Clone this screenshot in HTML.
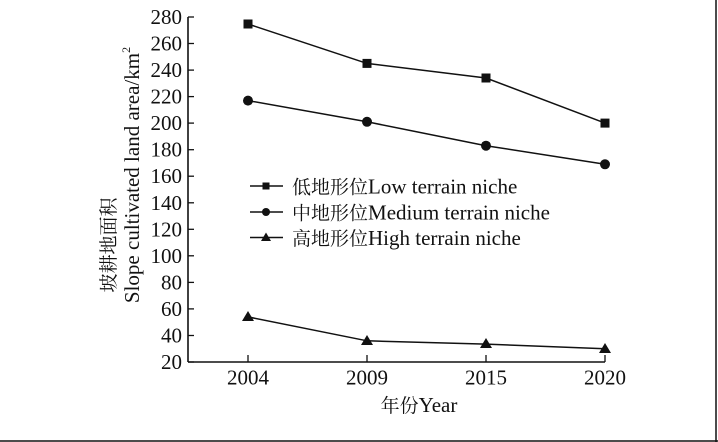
<!DOCTYPE html>
<html><head><meta charset="utf-8"><style>
html,body{margin:0;padding:0;background:#fff;}
svg{display:block;}
text{font-family:"Liberation Serif","Times New Roman","Noto Serif CJK SC",serif;fill:#111;}
.cn{font-family:"Noto Serif CJK SC","Liberation Serif",serif;}
</style></head><body>
<svg width="718" height="442" viewBox="0 0 718 442" xmlns="http://www.w3.org/2000/svg">
<rect width="718" height="442" fill="#fff"/>
<!-- frame -->
<line x1="0" y1="441" x2="718" y2="441" stroke="#111" stroke-width="1.5"/>
<line x1="716" y1="0" x2="716" y2="442" stroke="#111" stroke-width="1.5"/>
<!-- axes -->
<line x1="188" y1="17" x2="188" y2="362" stroke="#111" stroke-width="1.6"/>
<line x1="188" y1="362" x2="605" y2="362" stroke="#111" stroke-width="1.6"/>
<g stroke="#111" stroke-width="1.3">
<line x1="188" y1="362" x2="194" y2="362"/>
<line x1="188" y1="335.5" x2="194" y2="335.5"/>
<line x1="188" y1="308.9" x2="194" y2="308.9"/>
<line x1="188" y1="282.4" x2="194" y2="282.4"/>
<line x1="188" y1="255.8" x2="194" y2="255.8"/>
<line x1="188" y1="229.3" x2="194" y2="229.3"/>
<line x1="188" y1="202.8" x2="194" y2="202.8"/>
<line x1="188" y1="176.2" x2="194" y2="176.2"/>
<line x1="188" y1="149.7" x2="194" y2="149.7"/>
<line x1="188" y1="123.1" x2="194" y2="123.1"/>
<line x1="188" y1="96.6" x2="194" y2="96.6"/>
<line x1="188" y1="70.1" x2="194" y2="70.1"/>
<line x1="188" y1="43.5" x2="194" y2="43.5"/>
<line x1="188" y1="17" x2="194" y2="17"/>
<line x1="248" y1="362" x2="248" y2="355"/>
<line x1="367" y1="362" x2="367" y2="355"/>
<line x1="486" y1="362" x2="486" y2="355"/>
<line x1="605" y1="362" x2="605" y2="355"/>
</g>
<!-- y tick labels -->
<g font-size="21" text-anchor="end">
<text x="182" y="369">20</text>
<text x="182" y="342.5">40</text>
<text x="182" y="315.9">60</text>
<text x="182" y="289.4">80</text>
<text x="182" y="262.8">100</text>
<text x="182" y="236.3">120</text>
<text x="182" y="209.8">140</text>
<text x="182" y="183.2">160</text>
<text x="182" y="156.7">180</text>
<text x="182" y="130.1">200</text>
<text x="182" y="103.6">220</text>
<text x="182" y="77.1">240</text>
<text x="182" y="50.5">260</text>
<text x="182" y="24">280</text>
</g>
<!-- x tick labels -->
<g font-size="21" text-anchor="middle">
<text x="248" y="384.5">2004</text>
<text x="367" y="384.5">2009</text>
<text x="486" y="384.5">2015</text>
<text x="605" y="384.5">2020</text>
</g>
<!-- axis titles -->
<text x="419" y="412" font-size="21" text-anchor="middle"><tspan class="cn" font-size="19">年份</tspan>Year</text>
<text transform="translate(139,175) rotate(-90)" font-size="21" text-anchor="middle">Slope cultivated land area/km<tspan font-size="12" dy="-9">2</tspan></text>
<text class="cn" transform="translate(115,245) rotate(-90)" font-size="19" text-anchor="middle">坡耕地面积</text>
<!-- series -->
<g stroke="#111" stroke-width="1.5" fill="none">
<polyline points="248,24 367,63.4 486,78 605,123.1"/>
<polyline points="248,100.6 367,121.8 486,145.7 605,164.3"/>
<polyline points="248,316.9 367,340.8 486,344.1 605,348.7"/>
</g>
<g fill="#111">
<rect x="243.5" y="19.5" width="9" height="9"/>
<rect x="362.5" y="58.9" width="9" height="9"/>
<rect x="481.5" y="73.5" width="9" height="9"/>
<rect x="600.5" y="118.6" width="9" height="9"/>
<circle cx="248" cy="100.6" r="5"/>
<circle cx="367" cy="121.8" r="5"/>
<circle cx="486" cy="145.7" r="5"/>
<circle cx="605" cy="164.3" r="5"/>
<polygon points="248,311 242,321 254,321"/>
<polygon points="367,335 361,345 373,345"/>
<polygon points="486,338 480,348 492,348"/>
<polygon points="605,343 599,353 611,353"/>
</g>
<!-- legend -->
<g stroke="#111" stroke-width="1.5">
<line x1="250" y1="186" x2="283" y2="186"/>
<line x1="250" y1="212" x2="283" y2="212"/>
<line x1="250" y1="237.5" x2="283" y2="237.5"/>
</g>
<g fill="#111">
<rect x="262.5" y="182.5" width="7" height="7"/>
<circle cx="266" cy="212" r="4"/>
<polygon points="266,232.5 261,241 271,241"/>
</g>
<g font-size="21">
<text x="292" y="193.5"><tspan class="cn" font-size="19">低地形位</tspan>Low terrain niche</text>
<text x="292" y="219.5"><tspan class="cn" font-size="19">中地形位</tspan>Medium terrain niche</text>
<text x="292" y="245"><tspan class="cn" font-size="19">高地形位</tspan>High terrain niche</text>
</g>
</svg>
</body></html>
